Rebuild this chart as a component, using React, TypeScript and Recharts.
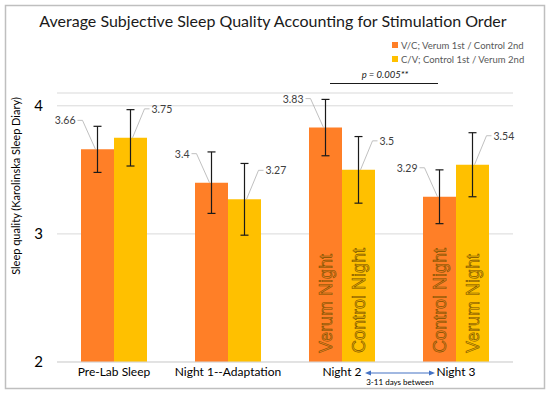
import { BarChart, Bar, XAxis, YAxis, CartesianGrid, ErrorBar, LabelList } from 'recharts';

const categories = ['Pre-Lab Sleep', 'Night 1--Adaptation', 'Night 2', 'Night 3'];
const seriesNames = ['V/C; Verum 1st / Control 2nd', 'C/V; Control 1st / Verum 2nd'];
const vcMeans = [3.66, 3.4, 3.83, 3.29];
const cvMeans = [3.75, 3.27, 3.5, 3.54];
const vcErrors = [0.18, 0.24, 0.22, 0.21];
const cvErrors = [0.22, 0.28, 0.26, 0.25];
const vcNightTags = ['', '', 'Verum Night', 'Control Night'];
const cvNightTags = ['', '', 'Control Night', 'Verum Night'];
const yTicks = [2, 3, 4];

const chartData = categories.map((name, i) => ({
  name,
  vc: vcMeans[i],
  cv: cvMeans[i],
  vcErr: vcErrors[i],
  cvErr: cvErrors[i],
  vcTag: vcNightTags[i],
  cvTag: cvNightTags[i],
}));

const ORANGE = '#FF7F27';
const YELLOW = '#FFC000';
const FONT = 'Lato, "Open Sans", sans-serif';

// Excel-style data callout with a leader line back to the bar top
const makeCallout = (side: 'left' | 'right') => (props: any) => {
  const { x, y, width, value } = props;
  const cx = Number(x) + Number(width) / 2;
  const cy = Number(y);
  const left = side === 'left';
  const tx = left ? cx - 22 : cx + 21;
  const ty = cy - 29;
  const start = left ? tx + 2 : tx - 2;
  const bend = left ? tx + 7 : tx - 7;
  return (
    <g>
      <polyline
        points={`${start},${ty} ${bend},${ty} ${cx + (left ? -2 : 2)},${cy}`}
        fill="none"
        stroke="#b0b0b0"
        strokeWidth={0.8}
      />
      <text
        x={tx}
        y={ty}
        textAnchor={left ? 'end' : 'start'}
        dominantBaseline="central"
        fontSize={10.5}
        fontFamily={FONT}
        fill="#404040"
      >
        {value}
      </text>
    </g>
  );
};

// rotated "Verum Night" / "Control Night" text inside the bars
const makeTag = (fill: string) => (props: any) => {
  const { x, y, width, height, value } = props;
  if (!value) return null;
  const cx = Number(x) + Number(width) / 2;
  const by = Number(y) + Number(height) - 9;
  return (
    <text
      x={cx}
      y={by}
      transform={`rotate(-90 ${cx} ${by})`}
      textAnchor="start"
      dominantBaseline="central"
      fontSize={18}
      fontFamily='"Liberation Sans", Arial, sans-serif'
      fill={fill}
      stroke="#7a5200"
      strokeWidth={0.6}
    >
      {value}
    </text>
  );
};

const App = () => {
  return (
    <div style={{ position: 'absolute', left: 0, top: 0, width: 550, height: 396, background: '#fff' }}>
      <BarChart
        width={550}
        height={396}
        data={chartData}
        margin={{ top: 93, right: 37, bottom: 0, left: 0 }}
        barCategoryGap={24}
        barGap={0}
      >
        <CartesianGrid vertical={false} stroke="#d9d9d9" />
        <XAxis
          dataKey="name"
          height={34}
          tickSize={0}
          tickMargin={5}
          axisLine={{ stroke: '#d9d9d9' }}
          tick={{ fontSize: 12, fill: '#000', fontFamily: FONT }}
        />
        <YAxis
          width={57}
          domain={[2, 4.1]}
          ticks={yTicks}
          allowDataOverflow
          tickSize={0}
          tickMargin={14}
          axisLine={false}
          tick={{ fontSize: 15, fill: '#000', fontFamily: FONT }}
        />
        <Bar dataKey="vc" fill={ORANGE} isAnimationActive={false}>
          <LabelList dataKey="vcTag" content={makeTag('#F07A22')} />
          <ErrorBar dataKey="vcErr" width={4} strokeWidth={1.2} stroke="#1a1a1a" />
          <LabelList dataKey="vc" content={makeCallout('left')} />
        </Bar>
        <Bar dataKey="cv" fill={YELLOW} isAnimationActive={false}>
          <LabelList dataKey="cvTag" content={makeTag('#EDB200')} />
          <ErrorBar dataKey="cvErr" width={4} strokeWidth={1.2} stroke="#1a1a1a" />
          <LabelList dataKey="cv" content={makeCallout('right')} />
        </Bar>
      </BarChart>
      <svg
        width={550}
        height={396}
        style={{ position: 'absolute', left: 0, top: 0, pointerEvents: 'none' }}
      >
        <rect x={5.5} y={5.5} width={539} height={383} fill="none" stroke="#bfbfbf" strokeWidth={1.5} />
        <text x={273} y={20} textAnchor="middle" dominantBaseline="central" fontSize={16} fontFamily={FONT} fill="#1a1a1a">
          Average Subjective Sleep Quality Accounting for Stimulation Order
        </text>
        {seriesNames.map((s, i) => (
          <g key={s}>
            <rect x={392} y={42 + i * 14} width={6} height={6} fill={i === 0 ? ORANGE : YELLOW} />
            <text x={401} y={45 + i * 14} dominantBaseline="central" fontSize={9.5} fontFamily={FONT} fill="#595959">
              {s}
            </text>
          </g>
        ))}
        <text x={385} y={74} textAnchor="middle" dominantBaseline="central" fontSize={9.5} fontStyle="italic" fontFamily={FONT} fill="#1a1a1a">
          p = 0.005**
        </text>
        <line x1={330} y1={83.5} x2={438} y2={83.5} stroke="#1a1a1a" strokeWidth={1.2} />
        <text
          x={15}
          y={186}
          transform="rotate(-90 15 186)"
          textAnchor="middle"
          dominantBaseline="central"
          fontSize={11}
          fontFamily={FONT}
          fill="#000"
        >
          Sleep quality (Karolinska Sleep Diary)
        </text>
        <line x1={369} y1={373} x2={431} y2={373} stroke="#4472C4" strokeWidth={1.2} />
        <polygon points="365,373 371,370.5 371,375.5" fill="#4472C4" />
        <polygon points="435,373 429,370.5 429,375.5" fill="#4472C4" />
        <text x={400} y={381.5} textAnchor="middle" dominantBaseline="central" fontSize={8} fontFamily={FONT} fill="#000">
          3-11 days between
        </text>
      </svg>
    </div>
  );
};

export default App;
